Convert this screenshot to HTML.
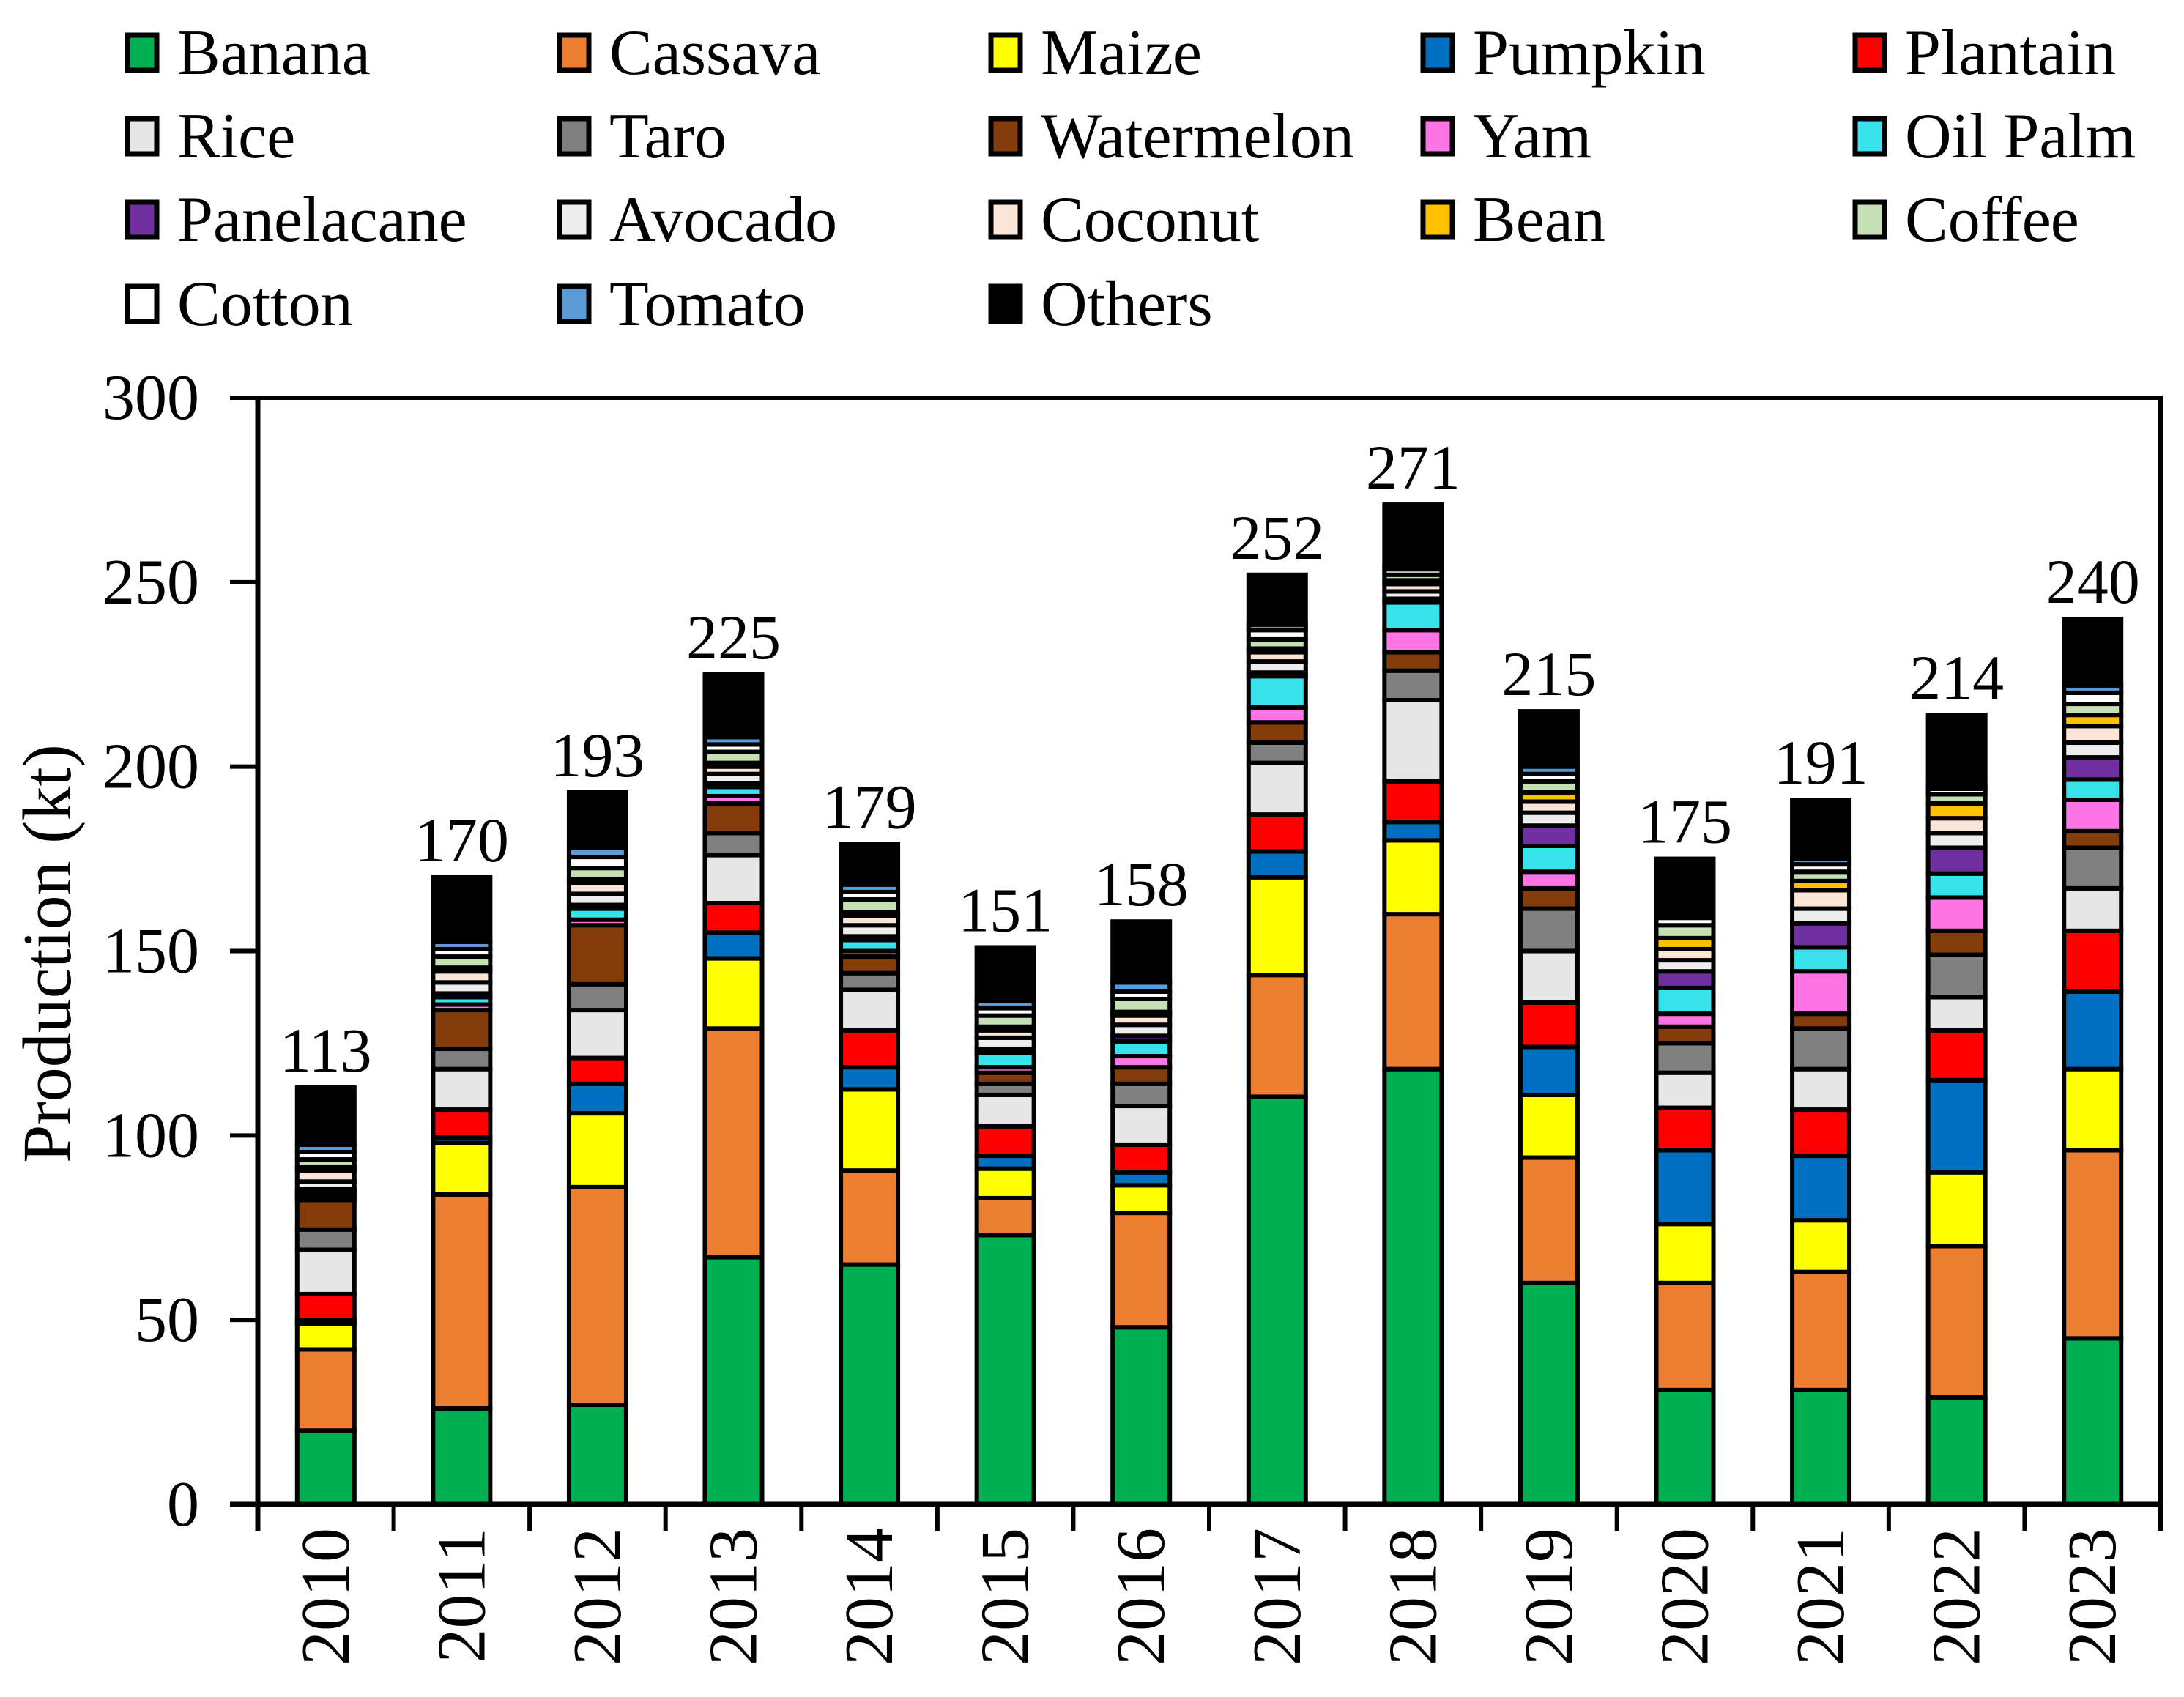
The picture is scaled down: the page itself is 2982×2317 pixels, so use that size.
<!DOCTYPE html>
<html><head><meta charset="utf-8"><style>body{margin:0;background:#fff}svg{display:block}</style></head>
<body>
<svg id="chart" width="2982" height="2317" viewBox="0 0 2982 2317" xmlns="http://www.w3.org/2000/svg" font-family="'Liberation Serif', serif"></svg>
<script>
const years = ["2010","2011","2012","2013","2014","2015","2016","2017","2018","2019","2020","2021","2022","2023"];
const totals = [113,170,193,225,179,151,158,252,271,215,175,191,214,240];
const seriesNames = ["Banana","Cassava","Maize","Pumpkin","Plantain","Rice","Taro","Watermelon","Yam","Oil Palm","Panelacane","Avocado","Coconut","Bean","Coffee","Cotton","Tomato","Others"];
const seriesColors = ["#00B050","#ED7D31","#FFFF00","#0070C0","#FF0000","#E6E6E6","#808080","#843C0C","#FF75E6","#38E2EC","#7030A0","#EDEDED","#FBE5D6","#FFC000","#C5E0B4","#FFFFFF","#5B9BD5","#000000"];
const banana     = [20,26,27,67,65,73,48,110.5,118,60,31,31,29,45];
const cassava    = [22,58,59,62,25.5,10,31,33,42,34,29,32,41,51];
const maize      = [7,14,20,19,22,8,7.5,26.5,20,17,16,14,20,22];
const pumpkin    = [1,1.5,8,7,6,3.5,3.5,7,5,13,20,17.5,25,21];
const plantain   = [7,7.5,7,8,10,8,7.5,10,11,12,11.5,12.5,13.5,16.5];
const rice       = [12,11,13,13,11,8.5,10.5,14,22,14,9.5,11,9,11.5];
const taro       = [5.5,5.5,7,6,4.5,3,6,5.5,8,11.5,8,11,11.5,11];
const watermelon = [8,10.5,16,8,4.5,3,4.5,5.5,5,5.5,4.5,4,6.5,4.5];
const yam        = [1,1.5,1.5,2,1.5,1.5,3,4,6,4.5,3.5,11.5,9,8.5];
const oilPalm    = [1,2,3,2.5,3,4,4,8.5,7.5,7,7,6.5,6.5,5.5];
const panelacane = [1,1,1,1,1,1,1.5,1,1,5.5,4.5,6.5,7,6];
const avocado    = [2,3,3,2.5,3,3,3,3,2,3.5,3,4,4,4];
const coconut    = [3,3,3,2,2.5,2,2.5,2.5,2,3,3,5,4,4.5];
const bean       = [1,1,1,1,1,1,1,1,1,2.5,3,2.5,4,3];
const coffee     = [2,3,3,3,3.5,3,3.5,2.5,1.5,3,3.5,2.5,2.5,3];
const cotton     = [2,2,3,2,2,2,2,2.5,1.5,2,2,2,1.5,3];
const tomato     = [2,2,2.5,2,2,2,2.5,1.5,1,2,1,1.5,1,2];
const others     = [15.5,17.5,15,17,11,14.5,16.5,13.5,16.5,15,15,16,19,18];
const seriesValues = [banana,cassava,maize,pumpkin,plantain,rice,taro,watermelon,yam,oilPalm,panelacane,avocado,coconut,bean,coffee,cotton,tomato,others];
const yTicks = [0,50,100,150,200,250,300];

const NS="http://www.w3.org/2000/svg";
const svg=document.getElementById('chart');
const X0=352,X1=2950,YT=543,YB=2054,YMAX=300;
const bandW=(X1-X0)/years.length;
function yScale(v){return YB-(v/YMAX)*(YB-YT);}
function xCenter(i){return X0+bandW*(i+0.5);}
function mk(tag,attrs){const e=document.createElementNS(NS,tag);for(const k in attrs)e.setAttribute(k,attrs[k]);return e;}

const frame=mk('path',{d:`M${X0} ${YT} H${X1} V${YB}`,fill:'none',stroke:'#000','stroke-width':6});


svg.appendChild(frame);

const barW=78;
years.forEach((yr,i)=>{
  const g=mk('g',{});
  
  
  let cum=0;
  seriesValues.forEach((arr,s)=>{
    const v=arr[i];
    const y1=yScale(cum+v),y0=yScale(cum);
    const r=mk('rect',{x:xCenter(i)-barW/2,y:y1,width:barW,height:Math.max(0,y0-y1),fill:seriesColors[s],stroke:'#000','stroke-width':6});
    
    
    g.appendChild(r);
    cum+=v;
  });
  svg.appendChild(g);
  const t=mk('text',{x:xCenter(i),y:yScale(totals[i])-22,'text-anchor':'middle','font-size':86,fill:'#000'});
  t.textContent=totals[i];
  
  
  svg.appendChild(t);
  const yl=mk('text',{transform:`translate(${xCenter(i)+31},2086) rotate(-90)`,'text-anchor':'end','font-size':94,fill:'#000'});
  yl.textContent=yr;
  
  
  svg.appendChild(yl);
});

const yAxis=mk('line',{x1:X0,y1:YT-3,x2:X0,y2:YB+36,stroke:'#000','stroke-width':7});


svg.appendChild(yAxis);
const xAxis=mk('line',{x1:X0-38,y1:YB,x2:X1,y2:YB,stroke:'#000','stroke-width':7});


svg.appendChild(xAxis);
for(let i=1;i<=years.length;i++){
  const tk=mk('line',{x1:X0+bandW*i,y1:YB,x2:X0+bandW*i,y2:YB+36,stroke:'#000','stroke-width':6});
  
  
  svg.appendChild(tk);
}
yTicks.forEach(v=>{
  const tk=mk('line',{x1:X0-38,y1:yScale(v),x2:X0,y2:yScale(v),stroke:'#000','stroke-width':6});
  
  
  svg.appendChild(tk);
  const t=mk('text',{x:272,y:yScale(v)+29,'text-anchor':'end','font-size':88,fill:'#000'});
  t.textContent=v;
  
  
  svg.appendChild(t);
});
const yt=mk('text',{transform:'translate(96,1302) rotate(-90)','text-anchor':'middle','font-size':94,fill:'#000'});
yt.textContent='Production (kt)';


svg.appendChild(yt);

const colX=[171,761,1350,1940,2530],rowY=[72,186,300,415];
seriesNames.forEach((n,s)=>{
  const cx=colX[s%5],cy=rowY[Math.floor(s/5)];
  const g=mk('g',{});
  
  
  g.appendChild(mk('rect',{x:cx+3,y:cy-24,width:40,height:48,fill:seriesColors[s],stroke:'#000','stroke-width':7}));
  const t=mk('text',{x:cx+71,y:cy+29,'font-size':88,fill:'#000'});
  t.textContent=n;
  g.appendChild(t);
  svg.appendChild(g);
});
</script>
</body></html>
